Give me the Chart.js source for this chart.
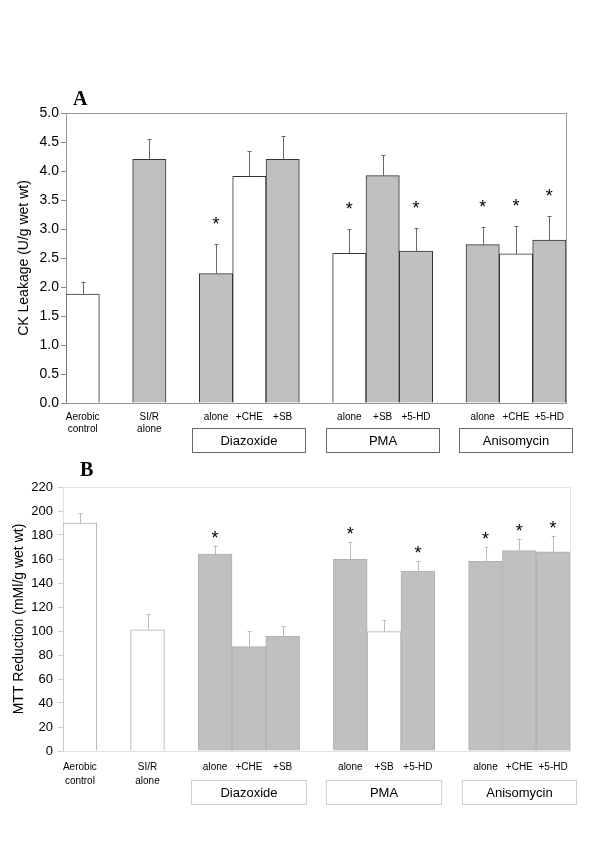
<!DOCTYPE html>
<html>
<head>
<meta charset="utf-8">
<script src="https://cdn.jsdelivr.net/npm/chart.js@4"></script>
<style>
  html, body { margin: 0; padding: 0; background: #fff; }
  #wrapA { position: absolute; left: 0; top: 0; width: 600px; height: 460px; }
  #wrapB { position: absolute; left: 0; top: 460px; width: 600px; height: 389px; }
</style>
</head>
<body>
<div id="wrapA"><canvas id="chartA"></canvas></div>
<div id="wrapB"><canvas id="chartB"></canvas></div>
<script>
// Data

const categories = [['Aerobic', 'control'], '', ['SI/R', 'alone'], '', 'alone', '+CHE', '+SB', '',
  'alone', '+SB', '+5-HD', '', 'alone', '+CHE', '+5-HD'];

const groupNames = ['Diazoxide', 'PMA', 'Anisomycin'];
const groupStart = [4, 8, 12];
const groupEnd = [6, 10, 14];

// panel A: CK leakage
const ckValues = [1.88, null, 4.2, null, 2.23, 3.91, 4.2, null, 2.58, 3.92, 2.62, null, 2.73, 2.57, 2.81];
const ckErrors = [0.21, null, 0.35, null, 0.51, 0.43, 0.4, null, 0.42, 0.35, 0.4, null, 0.3, 0.48, 0.41];
const ckShaded = [false, false, true, false, true, false, true, false, false, true, true, false, true, false, true];
const ckSignif = [false, false, false, false, true, false, false, false, true, false, true, false, true, true, true];

// panel B: MTT reduction
const mttValues = [190, null, 101, null, 164, 87, 95.5, null, 160, 99.5, 150, null, 158, 167, 166];
const mttErrors = [8, null, 13, null, 7, 13, 8.5, null, 14, 9.5, 8, null, 12, 10, 13];
const mttShaded = [false, false, false, false, true, true, true, false, true, false, true, false, true, true, true];
const mttSignif = [false, false, false, false, true, false, false, false, true, false, true, false, true, true, true];

const ckTicks = { min: 0, max: 5, step: 0.5 };
const mttTicks = { min: 0, max: 220, step: 20 };

const GRAY = '#c0c0c0';

// Plugin for the extras: frame, error bars, stars, group boxes, panel letter

function extrasPlugin(opt) {
  return {
    id: 'extras',
    beforeDatasetsDraw(chart) {
      const ctx = chart.ctx;
      const a = chart.chartArea;
      ctx.save();
      ctx.strokeStyle = opt.frameColor;
      ctx.lineWidth = 1;
      ctx.strokeRect(Math.round(a.left) + 0.5, Math.round(a.top) + 0.5,
        Math.round(a.right - a.left), Math.round(a.bottom - a.top));
      ctx.restore();
    },
    afterDatasetsDraw(chart) {
      const ctx = chart.ctx;
      const meta = chart.getDatasetMeta(0);
      const y = chart.scales.y;
      const x = chart.scales.x;
      ctx.save();

      // error bars + stars
      opt.values.forEach(function (v, i) {
        if (v == null) return;
        const bar = meta.data[i];
        const bx = Math.round(bar.x) + 0.5;
        const top = y.getPixelForValue(v + opt.errors[i]);
        ctx.strokeStyle = opt.errColor;
        ctx.lineWidth = 1;
        ctx.beginPath();
        ctx.moveTo(bx, bar.y);
        ctx.lineTo(bx, top);
        ctx.moveTo(bx - opt.cap, Math.round(top) + 0.5);
        ctx.lineTo(bx + opt.cap, Math.round(top) + 0.5);
        ctx.stroke();
        if (opt.signif[i]) {
          ctx.fillStyle = '#000';
          ctx.font = '18px "Liberation Sans", Arial, sans-serif';
          ctx.textAlign = 'center';
          ctx.textBaseline = 'alphabetic';
          ctx.fillText('*', bar.x, top - opt.starGap + 10);
        }
      });

      // group boxes
      const half = (x.getPixelForValue(1) - x.getPixelForValue(0)) / 2;
      groupNames.forEach(function (name, g) {
        const l = Math.round(x.getPixelForValue(groupStart[g]) - half - 7) + 0.5;
        const r = Math.round(x.getPixelForValue(groupEnd[g]) + half + 6) + 0.5;
        ctx.strokeStyle = opt.boxColor;
        ctx.lineWidth = 1;
        ctx.strokeRect(l, opt.boxTop + 0.5, r - l, opt.boxHeight);
        ctx.fillStyle = '#000';
        ctx.font = '13px "Liberation Sans", Arial, sans-serif';
        ctx.textAlign = 'center';
        ctx.textBaseline = 'middle';
        ctx.fillText(name, (l + r) / 2, opt.boxTop + opt.boxHeight / 2 + 1);
      });

      // panel letter
      ctx.fillStyle = '#000';
      ctx.font = 'bold 20px "Liberation Serif", "Times New Roman", serif';
      ctx.textAlign = 'left';
      ctx.textBaseline = 'alphabetic';
      ctx.fillText(opt.letter, opt.letterX, opt.letterY);
      ctx.restore();
    }
  };
}

function makeChart(id, o) {
  return new Chart(document.getElementById(id), {
    type: 'bar',
    data: {
      labels: categories,
      datasets: [{
        data: o.values,
        backgroundColor: o.shaded.map(function (s) { return s ? GRAY : '#fff'; }),
        borderColor: o.barBorder,
        borderWidth: 1,
        barPercentage: 1,
        categoryPercentage: 1
      }]
    },
    options: {
      responsive: true,
      maintainAspectRatio: false,
      animation: false,
      layout: { padding: o.padding },
      plugins: { legend: { display: false }, tooltip: { enabled: false } },
      scales: {
        x: {
          grid: { display: false, drawTicks: false },
          border: { display: false },
          ticks: {
            color: '#000',
            padding: o.xPad,
            maxRotation: 0,
            autoSkip: false,
            font: { family: '"Liberation Sans", Arial, sans-serif', size: 10, lineHeight: o.xLine }
          },
          afterFit: function (s) { s.height = o.xHeight; }
        },
        y: {
          min: o.ticks.min,
          max: o.ticks.max,
          border: { display: false },
          grid: { drawOnChartArea: false, drawTicks: true, tickLength: 5, color: o.tickColor },
          ticks: {
            stepSize: o.ticks.step,
            color: '#000',
            padding: o.yPad,
            font: { family: '"Liberation Sans", Arial, sans-serif', size: o.yFont },
            callback: o.fmt
          },
          title: {
            display: true,
            text: o.title,
            color: '#000',
            padding: { top: o.titlePad, bottom: 0 },
            font: { family: '"Liberation Sans", Arial, sans-serif', size: 14 }
          },
          afterFit: function (s) { s.width = o.yWidth; }
        }
      }
    },
    plugins: [extrasPlugin(o)]
  });
}

makeChart('chartA', {
  values: ckValues, errors: ckErrors, shaded: ckShaded, signif: ckSignif, ticks: ckTicks,
  title: 'CK Leakage (U/g wet wt)',
  fmt: function (v) { return v.toFixed(1); },
  padding: { top: 113, right: 34, left: 0, bottom: 0 },
  yWidth: 66, xHeight: 57, xPad: 8, xLine: 1.2, yPad: 2, yFont: 14, titlePad: 16,
  barBorder: '#333', tickColor: '#888', frameColor: '#999',
  errColor: '#666', cap: 2, starGap: 24,
  boxColor: '#666', boxTop: 428, boxHeight: 24,
  letter: 'A', letterX: 73, letterY: 105
});

makeChart('chartB', {
  values: mttValues, errors: mttErrors, shaded: mttShaded, signif: mttSignif, ticks: mttTicks,
  title: 'MTT Reduction (mMl/g wet wt)',
  fmt: function (v) { return v; },
  padding: { top: 27, right: 30, left: 0, bottom: 0 },
  yWidth: 63, xHeight: 98, xPad: 9, xLine: 1.4, yPad: 5, yFont: 13, titlePad: 11,
  barBorder: '#b0b0b0', tickColor: '#ccc', frameColor: '#e2e2e2',
  errColor: '#bbb', cap: 2, starGap: 12,
  boxColor: '#d0d0d0', boxTop: 320, boxHeight: 24,
  letter: 'B', letterX: 80, letterY: 16
});
</script>
</body>
</html>
